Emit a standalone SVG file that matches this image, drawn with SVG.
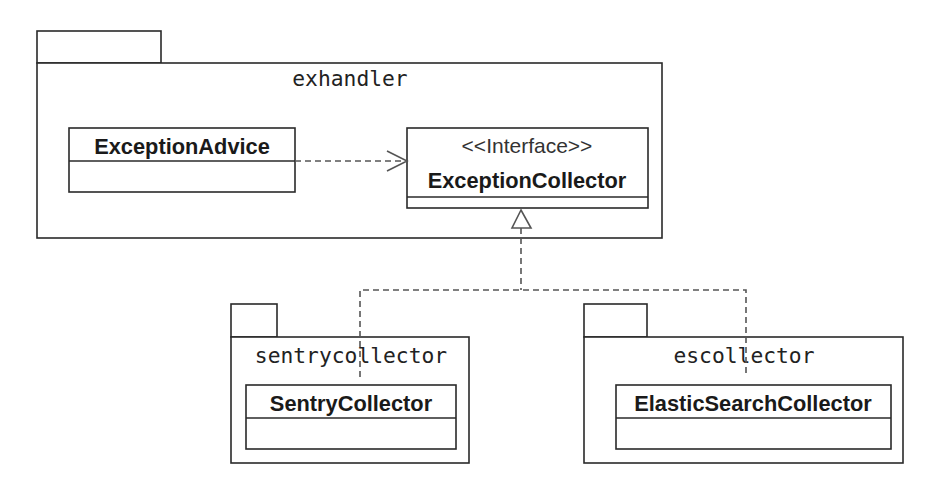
<svg xmlns="http://www.w3.org/2000/svg" width="932" height="490" viewBox="0 0 932 490">
<defs>
<style>
.box{fill:#fff;stroke:#2a2a2a;stroke-width:1.6}
.ln{fill:none;stroke:#2a2a2a;stroke-width:1.6}
.pkg{font-family:"DejaVu Sans Mono",monospace;font-size:21.3px;fill:#222;text-anchor:middle}
.cls{font-family:"Liberation Sans",Arial,sans-serif;font-size:21.8px;font-weight:bold;fill:#1a1a1a;text-anchor:middle}
.ster{font-family:"Liberation Sans",Arial,sans-serif;font-size:21px;fill:#333;text-anchor:middle}
.dash{fill:none;stroke:#555;stroke-width:1.6;stroke-dasharray:6 4}
.head{fill:none;stroke:#555;stroke-width:1.6}
</style>
</defs>
<rect width="932" height="490" fill="#fff"/>
<g id="exhandler">
<rect class="box" x="37" y="31" width="124" height="32"/>
<rect class="box" x="37" y="63" width="625" height="175"/>
<text class="pkg" x="350" y="86">exhandler</text>
</g>
<g id="ExceptionAdvice">
<rect class="box" x="69" y="128" width="226" height="64"/>
<line class="ln" x1="69" y1="161" x2="295" y2="161"/>
<text class="cls" x="182" y="154">ExceptionAdvice</text>
</g>
<g id="ExceptionCollector">
<rect class="box" x="407" y="128" width="241" height="80"/>
<line class="ln" x1="407" y1="197" x2="648" y2="197"/>
<text class="ster" x="527" y="153">&lt;&lt;Interface&gt;&gt;</text>
<text class="cls" x="527" y="188">ExceptionCollector</text>
</g>
<g id="sentrycollector">
<rect class="box" x="231" y="304" width="46" height="33"/>
<rect class="box" x="231" y="337" width="238" height="126"/>
<text class="pkg" x="351" y="363">sentrycollector</text>
</g>
<g id="SentryCollector">
<rect class="box" x="246" y="385" width="210" height="64"/>
<line class="ln" x1="246" y1="418" x2="456" y2="418"/>
<text class="cls" x="351" y="411">SentryCollector</text>
</g>
<g id="escollector">
<rect class="box" x="584" y="304" width="63" height="33"/>
<rect class="box" x="584" y="337" width="319" height="126"/>
<text class="pkg" x="744" y="363">escollector</text>
</g>
<g id="ElasticSearchCollector">
<rect class="box" x="616" y="385" width="275" height="64"/>
<line class="ln" x1="616" y1="418" x2="891" y2="418"/>
<text class="cls" x="753" y="411">ElasticSearchCollector</text>
</g>
<g id="connectors">
<line class="dash" x1="295" y1="161" x2="405" y2="161"/>
<polyline class="head" points="387,151 407,161 387,171"/>
<polygon class="head" fill="#fff" points="521,210 512,228 531,228"/>
<polyline class="dash" points="521,228 521,290"/>
<polyline class="dash" points="360,377 360,290 746,290 746,377"/>
</g>
</svg>
